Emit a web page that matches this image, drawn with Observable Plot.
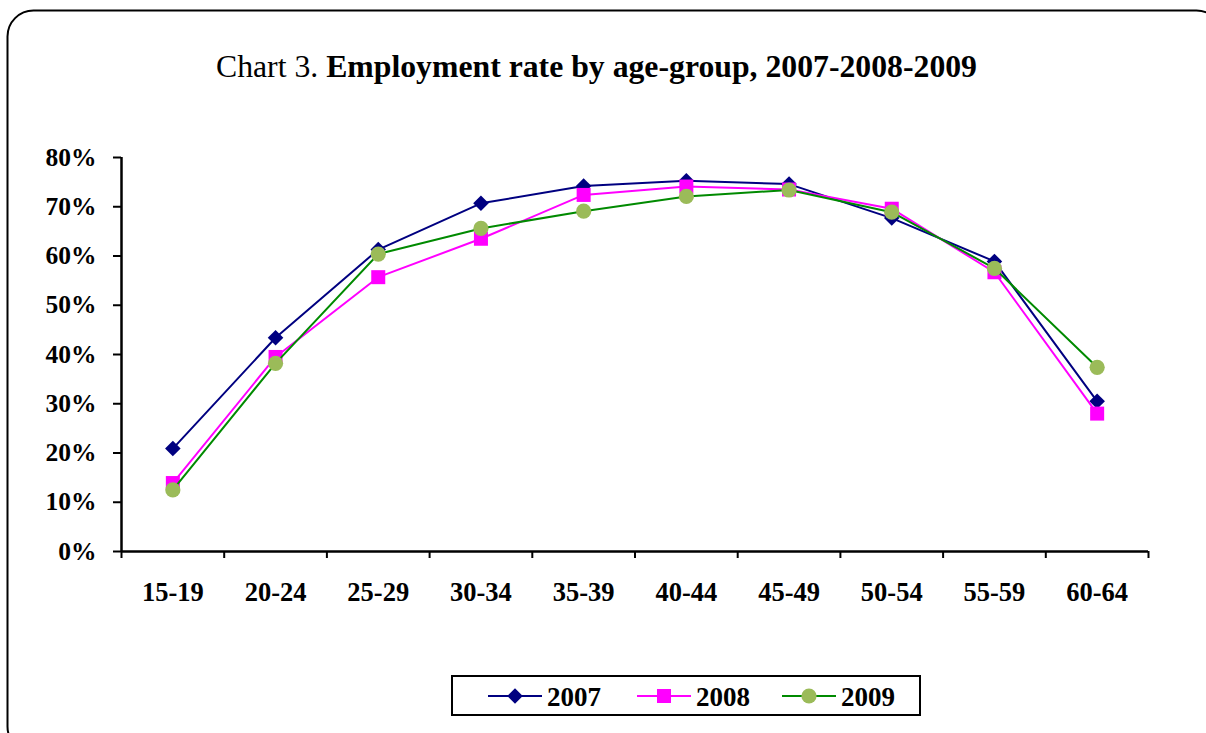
<!DOCTYPE html>
<html>
<head>
<meta charset="utf-8">
<script src="https://cdn.jsdelivr.net/npm/d3@7"></script>
<script src="https://cdn.jsdelivr.net/npm/@observablehq/plot@0.6"></script>
<style>
  body { margin: 0; background: #fff; }
  #wrap { position: relative; width: 1206px; height: 733px; overflow: hidden; background: #fff;
          font-family: "Liberation Serif", "Times New Roman", serif; }
  #wrap > svg, #wrap > div { position: absolute; left: 0; top: 0; }
  #legend { left: 451px !important; top: 675px !important; width: 466px; height: 37px;
            border: 2px solid #000; background: #fff; }
</style>
</head>
<body>
<div id="wrap"></div>
<script>
// Employment rate (%) by age group
const ageGroups = ["15-19", "20-24", "25-29", "30-34", "35-39", "40-44", "45-49", "50-54", "55-59", "60-64"];
const rate2007 = [20.9, 43.4, 61.3, 70.7, 74.2, 75.3, 74.6, 67.7, 58.9, 30.5];
const rate2008 = [13.9, 39.5, 55.7, 63.5, 72.4, 74.1, 73.5, 69.6, 56.7, 28.0];
const rate2009 = [12.5, 38.2, 60.4, 65.6, 69.1, 72.1, 73.4, 68.9, 57.5, 37.4];
const yTicks = [0, 10, 20, 30, 40, 50, 60, 70, 80];

const series = [
  {name: "2007", values: rate2007, line: "#000080", fill: "#000080", symbol: "diamond2", r: 7},
  {name: "2008", values: rate2008, line: "#FF00FF", fill: "#FF00FF", symbol: "square", r: 7.9},
  {name: "2009", values: rate2009, line: "#008a00", fill: "#9BBB59", symbol: "circle", r: 7.6}
];

const rows = series.flatMap(s => s.values.map((v, i) => ({year: s.name, i, age: ageGroups[i], rate: v / 100})));

const wrap = document.getElementById("wrap");

// outer rounded frame and title
const frame = d3.create("svg").attr("width", 1206).attr("height", 733);
frame.append("rect")
  .attr("x", 7.5).attr("y", 10.5).attr("width", 1215).attr("height", 742).attr("rx", 26)
  .attr("fill", "#fff").attr("stroke", "#000").attr("stroke-width", 2);
const title = frame.append("text")
  .attr("x", 216).attr("y", 77)
  .attr("font-family", "Liberation Serif, Times New Roman, serif")
  .attr("font-size", 31)
  .attr("textLength", 761).attr("lengthAdjust", "spacingAndGlyphs");
title.append("tspan").text("Chart 3. ");
title.append("tspan").attr("font-weight", "bold").text("Employment rate by age-group, 2007-2008-2009");
wrap.appendChild(frame.node());

// line chart
const marks = [];
for (const s of series) {
  const data = rows.filter(d => d.year === s.name);
  marks.push(Plot.line(data, {x: "i", y: "rate", stroke: s.line, strokeWidth: 2}));
  marks.push(Plot.dot(data, {x: "i", y: "rate", symbol: () => s.symbol, r: s.r, fill: s.fill, stroke: "none"}));
}

const chart = Plot.plot({
  width: 1206,
  height: 640,
  marginTop: 157,
  marginBottom: 89,
  marginLeft: 121,
  marginRight: 58,
  style: {background: "transparent", fontFamily: "Liberation Serif, Times New Roman, serif", fontWeight: "bold", color: "#000"},
  x: {domain: [-0.5, ageGroups.length - 0.5]},
  y: {domain: [0, 0.8]},
  symbol: {type: "identity"},
  marks: [
    Plot.axisY(yTicks.map(t => t / 100), {tickSize: 8, tickPadding: 17, fontSize: 25.5, strokeWidth: 2,
      tickFormat: d3.format(".0%"), label: null}),
    Plot.axisX(d3.range(ageGroups.length + 1).map(i => i - 0.5), {tickSize: 7, tickFormat: () => "", strokeWidth: 2, label: null}),
    Plot.axisX(d3.range(ageGroups.length), {tickSize: 0, tickPadding: 31, fontSize: 26.5,
      tickFormat: i => ageGroups[i], label: null}),
    Plot.ruleX([-0.5], {stroke: "#000", strokeWidth: 2.5}),
    Plot.ruleY([0], {stroke: "#000", strokeWidth: 2.5}),
    ...marks
  ]
});
wrap.appendChild(chart);

// legend
const legendDiv = document.createElement("div");
legendDiv.id = "legend";
wrap.appendChild(legendDiv);
const leg = d3.select(legendDiv).append("svg").attr("width", 466).attr("height", 37);
const itemX = [35, 184, 329];
const sym = {diamond2: d3.symbolDiamond2, square: d3.symbolSquare, circle: d3.symbolCircle};
series.forEach((s, k) => {
  const g = leg.append("g").attr("transform", `translate(${itemX[k]},19)`);
  g.append("line").attr("x1", 0).attr("x2", 54).attr("stroke", s.line).attr("stroke-width", 2);
  g.append("path")
    .attr("transform", "translate(27,0)")
    .attr("d", d3.symbol(sym[s.symbol], Math.PI * s.r * s.r)())
    .attr("fill", s.fill);
  g.append("text").attr("x", 59).attr("y", 10)
    .attr("font-family", "Liberation Serif, Times New Roman, serif")
    .attr("font-weight", "bold").attr("font-size", 27).text(s.name);
});
</script>
</body>
</html>
